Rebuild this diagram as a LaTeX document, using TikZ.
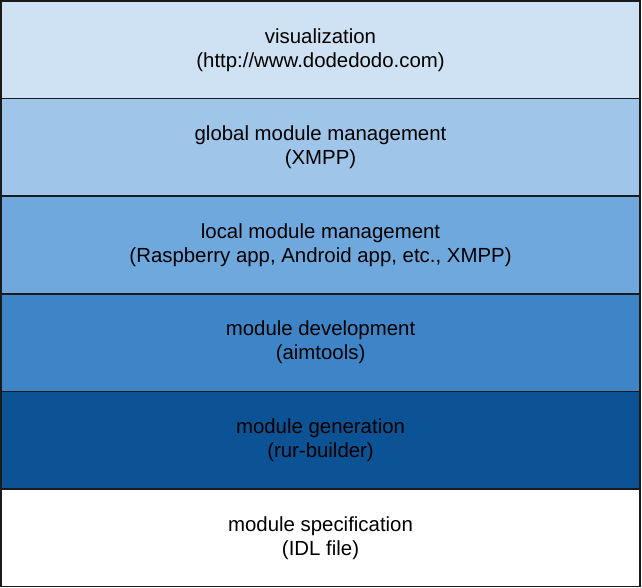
\documentclass[tikz,border=0pt]{standalone}
\usepackage{fontspec}
\setmainfont{Liberation Sans}
\usetikzlibrary{positioning}

\definecolor{lightblueiii}{RGB}{207,226,243}
\definecolor{lightblueii}{RGB}{159,197,232}
\definecolor{lightbluei}{RGB}{111,168,220}
\definecolor{darkbluei}{RGB}{61,133,198}
\definecolor{darkblueii}{RGB}{11,83,148}

\tikzset{every picture/.style={line width=0.75pt}}
\tikzset{layer/.style={draw={rgb, 255:red, 26; green, 26; blue, 26}, line width=1.1pt, outer sep=0pt,
    minimum width=479.3pt, minimum height=73.2pt, align=center,
    font=\fontsize{15.3}{18}\selectfont}}

\begin{document}
\begin{tikzpicture}[x=0.75pt,y=0.75pt,yscale=-1,xscale=1]
\useasboundingbox (0,0) rectangle (642,588);

%Layers
\node [layer, fill=lightblueiii, anchor=north west] (vis) at (1,1) {visualization\\(http://www.dodedodo.com)};
\node [layer, fill=lightblueii, below=0pt of vis] (glob) {global module management\\(XMPP)};
\node [layer, fill=lightbluei, below=0pt of glob] (loc) {local module management\\(Raspberry app, Android app, etc., XMPP)};
\node [layer, fill=darkbluei, below=0pt of loc] (dev) {module development\\(aimtools)};
\node [layer, fill=darkblueii, below=0pt of dev] (gen) {module generation\\(rur-builder)};
\node [layer, fill=white, below=0pt of gen] (spec) {module specification\\(IDL file)};

\end{tikzpicture}
\end{document}
